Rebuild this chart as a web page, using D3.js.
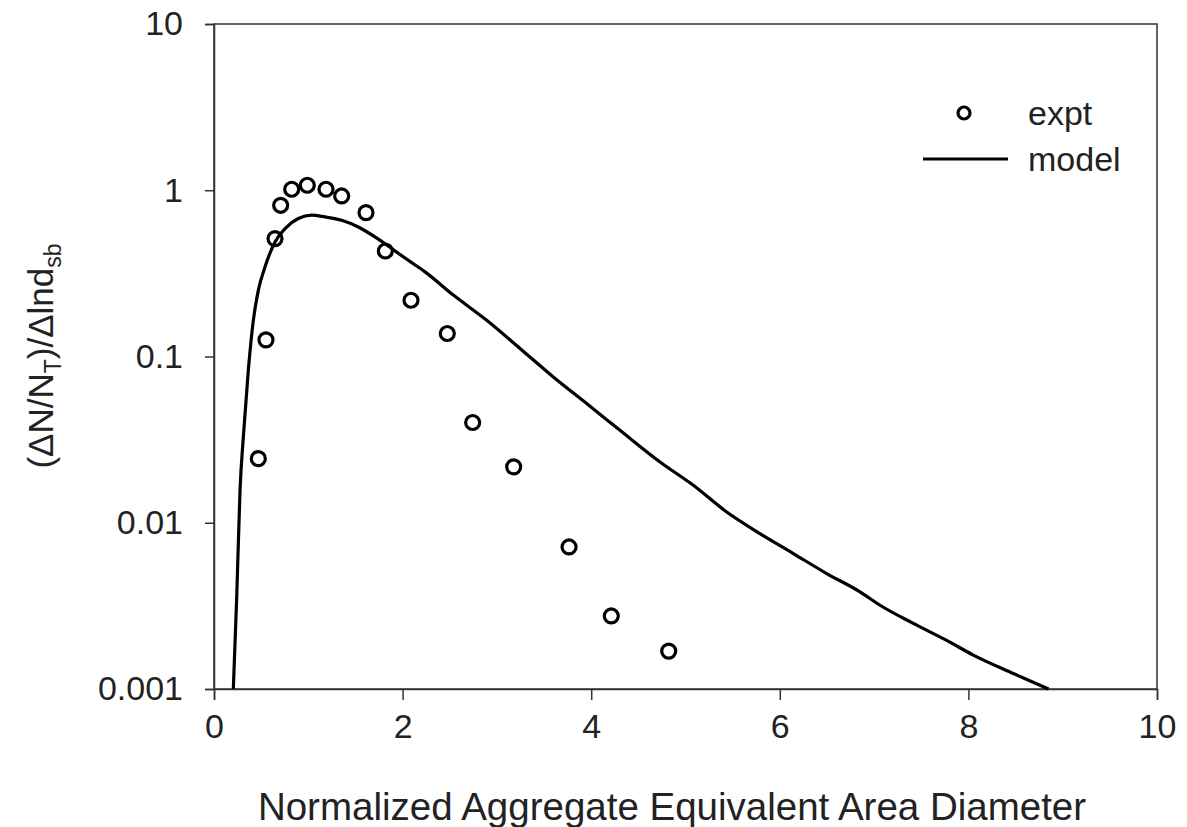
<!DOCTYPE html>
<html>
<head>
<meta charset="utf-8">
<script src="https://cdn.jsdelivr.net/npm/d3@7"></script>
<style>
  body { margin: 0; background: #fff; }
  text { font-family: "Liberation Sans", Arial, sans-serif; fill: #222; }
</style>
</head>
<body>
<script>
// experimental points
var exptX = [0.47, 0.551, 0.647, 0.707, 0.824, 0.989, 1.188, 1.354, 1.612, 1.817, 2.089, 2.474, 2.743, 3.178, 3.765, 4.213, 4.822];
var exptY = [0.0243, 0.126, 0.512, 0.812, 1.014, 1.072, 1.014, 0.924, 0.734, 0.431, 0.218, 0.1375, 0.0401, 0.0217, 0.00715, 0.00275, 0.00169];

// model curve
var modelX = [0.205, 0.241, 0.276, 0.311, 0.364, 0.417, 0.47, 0.541, 0.647, 0.771, 0.894, 1.036, 1.177, 1.354, 1.53, 1.707, 1.884, 2.06, 2.238, 2.538, 2.892, 3.245, 3.598, 3.952, 4.305, 4.73, 5.083, 5.437, 5.79, 6.143, 6.497, 6.85, 7.063, 7.416, 7.77, 8.052, 8.476, 8.85];
var modelY = [0.001, 0.00358, 0.0157, 0.0328, 0.0827, 0.165, 0.25, 0.346, 0.489, 0.601, 0.676, 0.708, 0.691, 0.66, 0.601, 0.524, 0.446, 0.379, 0.323, 0.234, 0.165, 0.1117, 0.0753, 0.0521, 0.036, 0.0232, 0.0168, 0.0116, 0.0086, 0.00653, 0.00495, 0.00384, 0.00319, 0.00248, 0.00196, 0.0016, 0.00124, 0.001];

var xTicks = [0, 2, 4, 6, 8, 10];
var yTicks = [10, 1, 0.1, 0.01, 0.001];

var w = 1187,
    h = 827;
var pL = 214, pR = 1157, pT = 24, pB = 689;

var x = d3.scaleLinear().domain([0, 10]).range([pL, pR]);
var y = d3.scaleLog().domain([0.001, 10]).range([pB, pT]);

var svg = d3.select("body").append("svg")
    .attr("width", w)
    .attr("height", h);

// frame
svg.append("rect")
    .attr("x", pL).attr("y", pT)
    .attr("width", pR - pL).attr("height", pB - pT)
    .attr("fill", "none").attr("stroke", "#333").attr("stroke-width", 1.5);

var xAxis = svg.append("g")
    .attr("transform", "translate(0," + pB + ")")
    .call(d3.axisBottom(x).tickValues(xTicks).tickSize(11).tickPadding(14).tickFormat(d3.format("d")));

var yAxis = svg.append("g")
    .attr("transform", "translate(" + pL + ",0)")
    .call(d3.axisLeft(y).tickValues(yTicks).tickSize(9).tickPadding(22).tickFormat(function(d) { return String(d); }));

[xAxis, yAxis].forEach(function(g) {
    g.select(".domain").attr("stroke", "#333").attr("stroke-width", 1.5);
    g.selectAll(".tick line").attr("stroke", "#333").attr("stroke-width", 1.5);
    g.selectAll(".tick text")
        .attr("fill", "#222")
        .style("font-family", "'Liberation Sans', Arial, sans-serif")
        .style("font-size", "34px");
});

// model line
var line = d3.line()
    .x(function(d, i) { return x(modelX[i]); })
    .y(function(d, i) { return y(modelY[i]); })
    .curve(d3.curveMonotoneX);

svg.append("path")
    .datum(modelX)
    .attr("d", line)
    .attr("fill", "none")
    .attr("stroke", "#000")
    .attr("stroke-width", 3.2);

// expt points
svg.selectAll("circle.expt")
    .data(exptX)
    .enter().append("circle")
    .attr("class", "expt")
    .attr("cx", function(d) { return x(d); })
    .attr("cy", function(d, i) { return y(exptY[i]); })
    .attr("r", 7)
    .attr("fill", "none")
    .attr("stroke", "#000")
    .attr("stroke-width", 3.2);

// legend
svg.append("circle")
    .attr("cx", 964).attr("cy", 113).attr("r", 6)
    .attr("fill", "none").attr("stroke", "#000").attr("stroke-width", 3.2);
svg.append("text").attr("x", 1028).attr("y", 125).style("font-size", "34px").text("expt");
svg.append("line")
    .attr("x1", 923).attr("x2", 1008).attr("y1", 159).attr("y2", 159)
    .attr("stroke", "#000").attr("stroke-width", 3.2);
svg.append("text").attr("x", 1028).attr("y", 171).style("font-size", "34px").text("model");

// axis titles
svg.append("text")
    .attr("x", 672).attr("y", 820)
    .attr("text-anchor", "middle")
    .style("font-size", "38.5px")
    .text("Normalized Aggregate Equivalent Area Diameter");

var yl = svg.append("text")
    .attr("transform", "translate(53,356)rotate(-90)")
    .attr("text-anchor", "middle")
    .style("font-size", "35px");
yl.append("tspan").text("(\u0394N/N");
yl.append("tspan").attr("dy", 8).style("font-size", "23px").text("T");
yl.append("tspan").attr("dy", -8).text(")/\u0394lnd");
yl.append("tspan").attr("dy", 8).style("font-size", "23px").text("sb");
</script>
</body>
</html>
